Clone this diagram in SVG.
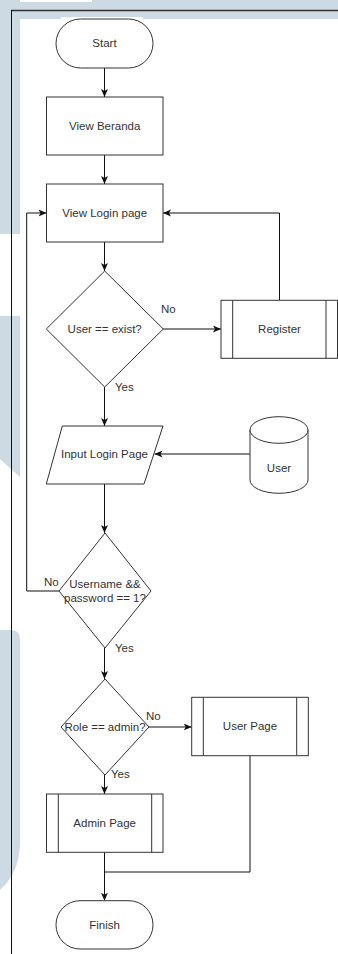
<svg xmlns="http://www.w3.org/2000/svg" width="338" height="954" viewBox="0 0 338 954">
<style>
.bg{fill:#cdd9e3}
.shape{fill:#fff;stroke:#333;stroke-width:1}
.conn{fill:none;stroke:#111;stroke-width:1}
text{font-family:"Liberation Sans",Arial,sans-serif;font-size:11.5px;fill:#333}
.c{text-anchor:middle}
</style>
<defs>
<marker id="arr" markerUnits="userSpaceOnUse" markerWidth="9" markerHeight="8" refX="8" refY="3.5" orient="auto">
<path d="M0,0 L8,3.5 L0,7 L2,3.5 z" fill="#111"/>
</marker>
</defs>
<rect x="0" y="0" width="338" height="954" fill="#fff"/>
<g id="background">
<rect class="bg" x="0" y="0" width="338" height="19"/>
<rect x="10" y="0" width="82" height="2" fill="#fff"/>
<rect x="61" y="17" width="82" height="2" fill="#fff"/>
<rect class="bg" x="0" y="0" width="20" height="234"/>
<polygon class="bg" points="0,316 20,316 20,477 0,459"/>
<path class="bg" d="M0,630 H12 Q20,630 20,640 V842 Q20,872 0,890 Z"/>
<line x1="11" y1="10.5" x2="338" y2="10.5" stroke="#333" stroke-width="1.6"/>
<line x1="11.5" y1="10" x2="11.5" y2="954" stroke="#111" stroke-width="1"/>
</g>
<g id="connectors">
<path class="conn" d="M104.5,68 V97" marker-end="url(#arr)"/>
<path class="conn" d="M104.5,155 V184" marker-end="url(#arr)"/>
<path class="conn" d="M104.5,242 V271" marker-end="url(#arr)"/>
<path class="conn" d="M163,329 H221" marker-end="url(#arr)"/>
<path class="conn" d="M279.5,300 V213 H163" marker-end="url(#arr)"/>
<path class="conn" d="M104.5,387 V426" marker-end="url(#arr)"/>
<path class="conn" d="M250,454 H154.5" marker-end="url(#arr)"/>
<path class="conn" d="M104.5,484 V533" marker-end="url(#arr)"/>
<path class="conn" d="M59,591 H26.7 V213 H46.5" marker-end="url(#arr)"/>
<path class="conn" d="M104.5,648 V679" marker-end="url(#arr)"/>
<path class="conn" d="M149,727 H191.7" marker-end="url(#arr)"/>
<path class="conn" d="M104.5,775 V794" marker-end="url(#arr)"/>
<path class="conn" d="M250,756 V872 H104.5"/>
<path class="conn" d="M104.5,852 V900.7" marker-end="url(#arr)"/>
<text x="161" y="313">No</text>
<text x="115" y="391">Yes</text>
<text x="44" y="586">No</text>
<text x="115" y="652">Yes</text>
<text x="146" y="720">No</text>
<text x="111" y="778">Yes</text>
</g>
<g id="start">
<rect class="shape" x="56" y="19" width="97" height="49" rx="24.5" ry="24.5"/>
<text class="c" x="104.5" y="47">Start</text>
</g>
<g id="view-beranda">
<rect class="shape" x="46.5" y="97" width="116.5" height="58"/>
<text class="c" x="104.7" y="129.5">View Beranda</text>
</g>
<g id="view-login">
<rect class="shape" x="46.5" y="184" width="116.5" height="58"/>
<text class="c" x="104.7" y="217">View Login page</text>
</g>
<g id="user-exist">
<polygon class="shape" points="104.7,271 163.3,329 104.7,387 46.3,329"/>
<text class="c" x="104.7" y="333">User == exist?</text>
</g>
<g id="register">
<rect class="shape" x="221" y="300.3" width="116.5" height="58"/>
<line class="shape" x1="232.7" y1="300.3" x2="232.7" y2="358.3"/>
<line class="shape" x1="326" y1="300.3" x2="326" y2="358.3"/>
<text class="c" x="279.5" y="333">Register</text>
</g>
<g id="input-login">
<polygon class="shape" points="62.3,426 163,426 144,484 46.3,484"/>
<text class="c" x="104.5" y="458">Input Login Page</text>
</g>
<g id="user-db">
<path class="shape" d="M250,430 A29,13.3 0 0 1 308,430 V480 A29,13.3 0 0 1 250,480 Z"/>
<path class="shape" fill="none" d="M250,430 A29,13.3 0 0 0 308,430"/>
<text class="c" x="279" y="471.5">User</text>
</g>
<g id="username-check">
<polygon class="shape" points="105,533 151,591 105,648 59,591"/>
<text class="c" x="105" y="588">Username &amp;&amp;</text>
<text class="c" x="105" y="602">password == 1?</text>
</g>
<g id="role-check">
<polygon class="shape" points="105,679 149,727 105,775 61,727"/>
<text class="c" x="105" y="731">Role == admin?</text>
</g>
<g id="user-page">
<rect class="shape" x="191.7" y="697.3" width="116.6" height="58.4"/>
<line class="shape" x1="203.3" y1="697.3" x2="203.3" y2="755.7"/>
<line class="shape" x1="296.7" y1="697.3" x2="296.7" y2="755.7"/>
<text class="c" x="250" y="730">User Page</text>
</g>
<g id="admin-page">
<rect class="shape" x="46.5" y="794" width="116.5" height="58.3"/>
<line class="shape" x1="58.3" y1="794" x2="58.3" y2="852.3"/>
<line class="shape" x1="151.7" y1="794" x2="151.7" y2="852.3"/>
<text class="c" x="104.7" y="827">Admin Page</text>
</g>
<g id="finish">
<rect class="shape" x="56" y="900.7" width="97" height="48.3" rx="24" ry="24"/>
<text class="c" x="104.5" y="929">Finish</text>
</g>
</svg>
